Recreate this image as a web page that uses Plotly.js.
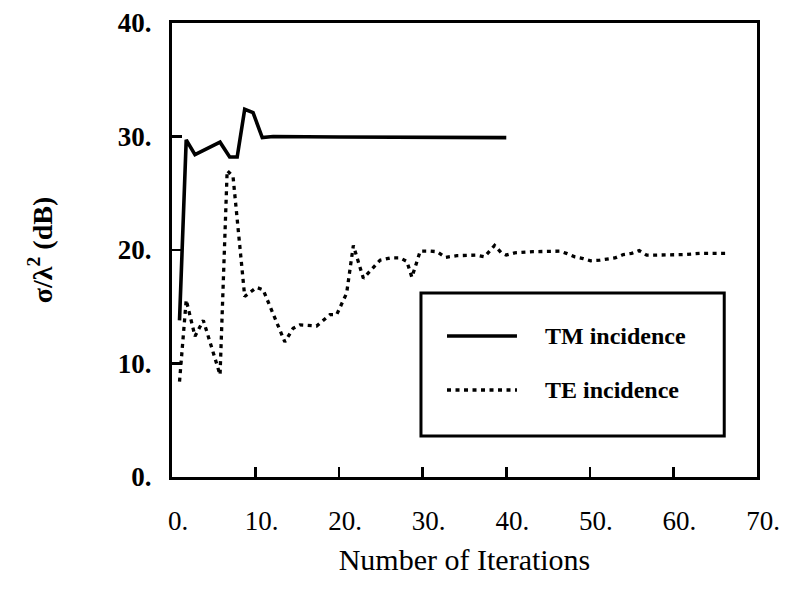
<!DOCTYPE html>
<html>
<head>
<meta charset="utf-8">
<script src="https://cdn.plot.ly/plotly-3.0.1.min.js"></script>
<style>html,body{margin:0;padding:0;background:#fff;}#chart{width:786px;height:596px;}</style>
</head>
<body>
<div id="chart"></div>
<script>
// ---- data ----
const seriesNames = ['TM incidence', 'TE incidence'];

const tmX = [0.9, 1.7, 2.75, 5.75, 6.9, 7.8, 8.7, 9.7, 10.8, 12.1, 20, 30, 40.0];
const tmY = [13.8, 29.7, 28.4, 29.5, 28.2, 28.2, 32.4, 32.1, 29.9, 30.0, 29.95, 29.9, 29.9];

const teX = [0.9, 1.7, 2.75, 3.75, 5.75, 6.6, 7.3, 8.7, 10.1, 10.9, 13.5, 14.5, 15.3, 17.3, 18.9, 19.7, 20.9,
             21.7, 22.9, 24.9, 26.1, 27.3, 28.1, 28.7, 29.1, 29.7, 30.9, 31.7, 32.7, 34.1, 36.4, 37.4, 38.6,
             39.4, 40.0, 41.0, 43.2, 45.2, 46.4, 47.2, 48.2, 49.2, 50.1, 51.2, 52.2, 53.0, 54.0, 55.0, 55.9,
             56.8, 58.0, 60.0, 61.2, 63.2, 65.1, 66.3];
const teY = [8.4, 15.6, 12.4, 13.8, 9.0, 27.0, 26.5, 15.9, 16.7, 16.5, 11.9, 13.1, 13.4, 13.3, 14.3, 14.3, 16.2,
             20.4, 17.5, 19.1, 19.3, 19.3, 19.0, 17.6, 18.5, 19.9, 19.9, 19.85, 19.35, 19.5, 19.55, 19.4, 20.4,
             19.75, 19.55, 19.75, 19.85, 19.9, 19.9, 19.7, 19.4, 19.25, 19.05, 19.1, 19.2, 19.3, 19.6, 19.7, 19.95,
             19.55, 19.55, 19.55, 19.6, 19.7, 19.7, 19.7];

const xTickVals = [0, 10, 20, 30, 40, 50, 60, 70];
const xTickText = ['0.', '10.', '20.', '30.', '40.', '50.', '60.', '70.'];
const yTickVals = [0, 10, 20, 30, 40];
const yTickText = ['0.', '10.', '20.', '30.', '40.'];

// ---- styling ----
const SERIF = '"Liberation Serif", "Times New Roman", "DejaVu Serif", serif';
const tmDash = 'solid';
const teDash = '4px,4.5px';

const traces = [
  {x: tmX, y: tmY, name: seriesNames[0], mode: 'lines', line: {color: '#000', width: 3.6, dash: tmDash}, showlegend: false},
  {x: teX, y: teY, name: seriesNames[1], mode: 'lines', line: {color: '#000', width: 3.3, dash: teDash}, showlegend: false}
];

// custom legend box (paper coordinates)
const lg = {x0: 0.4256, x1: 0.944, y0: 0.0903, y1: 0.4053};
const rowY = [0.3106, 0.1916];
const sampleX = [0.4701, 0.5897];
const textX = 0.634;

const shapes = [
  {type: 'rect', xref: 'paper', yref: 'paper', x0: lg.x0, x1: lg.x1, y0: lg.y0, y1: lg.y1,
   line: {color: '#000', width: 3}, fillcolor: 'rgba(255,255,255,0)'},
  {type: 'line', xref: 'paper', yref: 'paper', x0: sampleX[0], x1: sampleX[1], y0: rowY[0], y1: rowY[0],
   line: {color: '#000', width: 3.6, dash: tmDash}},
  {type: 'line', xref: 'paper', yref: 'paper', x0: sampleX[0], x1: sampleX[1], y0: rowY[1], y1: rowY[1],
   line: {color: '#000', width: 3.3, dash: teDash}}
];
const annotations = seriesNames.map((n, i) => ({
  xref: 'paper', yref: 'paper', x: textX, y: rowY[i], xanchor: 'left', yanchor: 'middle',
  text: '<b>' + n + '</b>', showarrow: false, font: {family: SERIF, size: 24, color: '#000'}
}));

const layout = {
  width: 786, height: 596,
  margin: {l: 172, r: 29, t: 23, b: 119, pad: 0},
  paper_bgcolor: '#fff', plot_bgcolor: '#fff',
  showlegend: false,
  xaxis: {
    range: [0, 70], tickvals: xTickVals, ticktext: xTickText,
    ticks: 'inside', ticklen: 10, tickwidth: 2.5, tickcolor: '#000',
    showline: true, linewidth: 3, linecolor: '#000', mirror: true,
    showgrid: false, zeroline: false,
    ticklabelshift: 6, ticklabelstandoff: 18,
    tickfont: {family: SERIF, size: 27, color: '#000'},
    title: {text: 'Number of Iterations', font: {family: SERIF, size: 30, color: '#000'}, standoff: 14}
  },
  yaxis: {
    range: [0, 40], tickvals: yTickVals, ticktext: yTickText,
    ticks: 'inside', ticklen: 10, tickwidth: 2.5, tickcolor: '#000',
    showline: true, linewidth: 3, linecolor: '#000', mirror: true,
    showgrid: false, zeroline: false,
    ticklabelstandoff: 12,
    tickfont: {family: SERIF, size: 27, color: '#000', weight: 'bold'},
    title: {text: '<b>σ/λ<sup>2</sup> (dB)</b>', font: {family: SERIF, size: 28, color: '#000'}, standoff: 58}
  },
  shapes: shapes,
  annotations: annotations
};

Plotly.newPlot('chart', traces, layout, {staticPlot: true, displayModeBar: false});
</script>
</body>
</html>
